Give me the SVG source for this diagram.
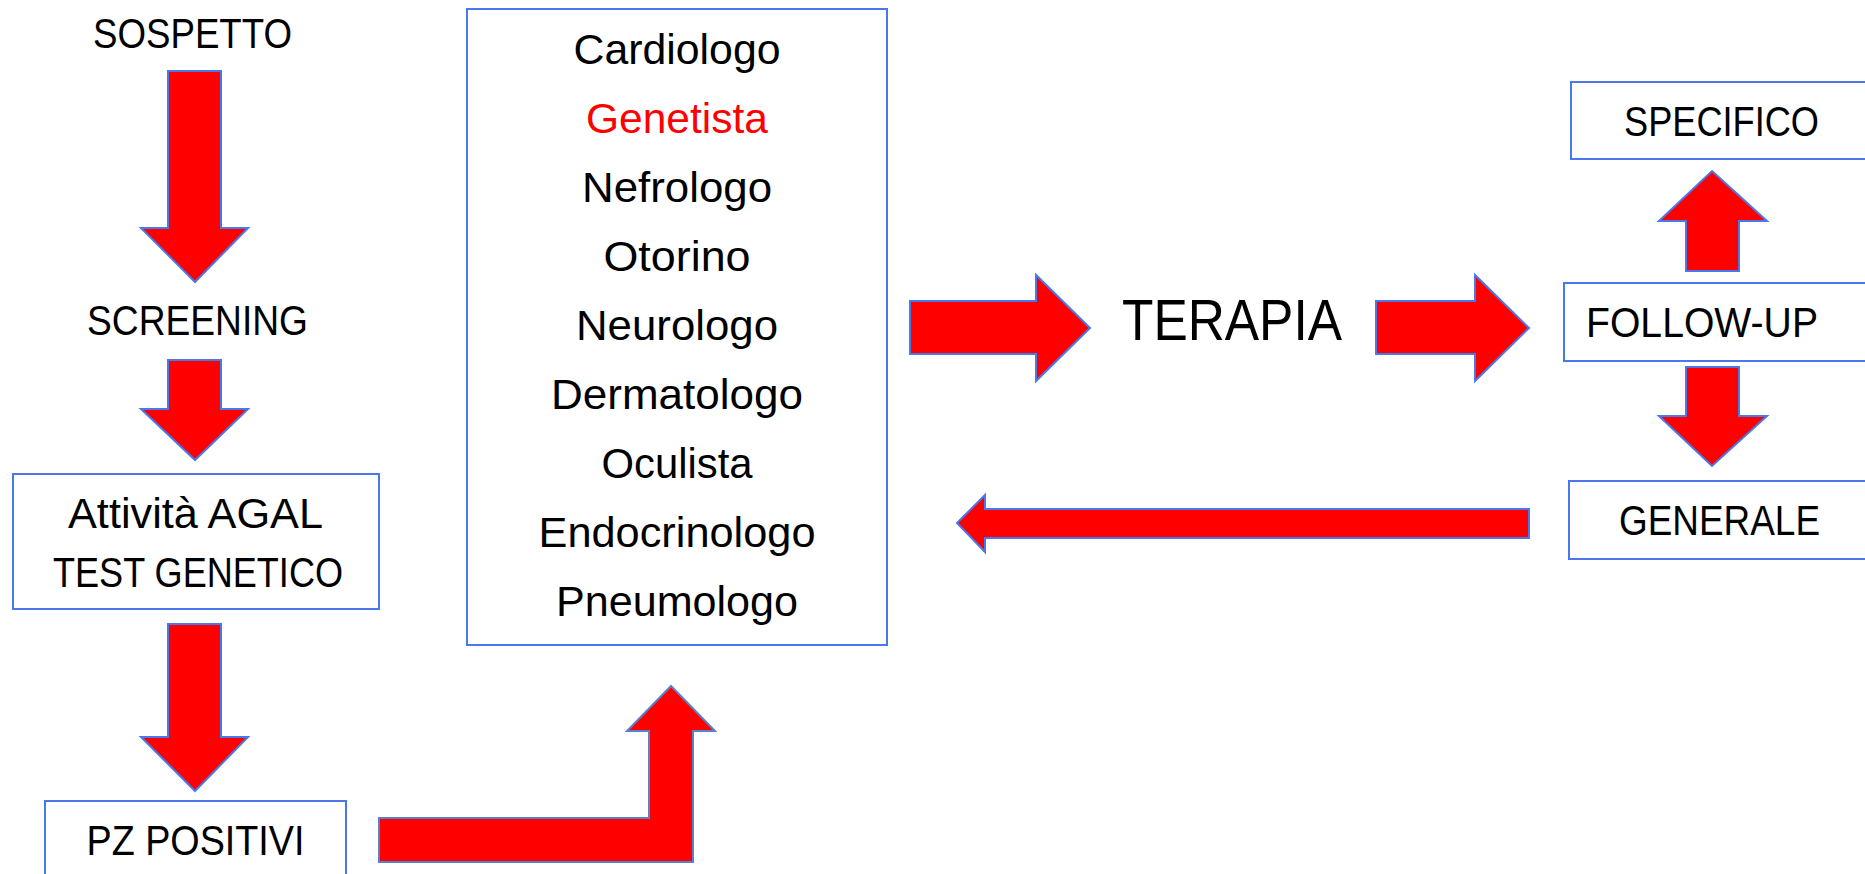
<svg xmlns="http://www.w3.org/2000/svg" width="1865" height="874" viewBox="0 0 1865 874">
<style>
.t{font-family:"Liberation Sans",Arial,sans-serif;font-size:42px;fill:#000;text-anchor:middle}
.box{fill:#fff;stroke:#4A78EC;stroke-width:2}
.arr{fill:#FF0000;stroke:#4A78EC;stroke-width:2;stroke-linejoin:miter}
</style>
<rect width="1865" height="874" fill="#fff"/>
<g id="connectors">
<polygon class="arr" points="168,71 221,71 221,228 248,228 195,282 141,228 168,228"/>
<polygon class="arr" points="168,360 221,360 221,409 248,409 195,460 141,409 168,409"/>
<polygon class="arr" points="168,624 221,624 221,737 248,737 195,791 141,737 168,737"/>
<polygon class="arr" style="stroke:#5A80C8" points="379,818 649,818 649,731 627,731 671,686 715,731 693,731 693,862 379,862"/>
<polygon class="arr" points="910,301 1036,301 1036,275 1090,328 1036,381 1036,354 910,354"/>
<polygon class="arr" points="1376,301 1475,301 1475,275 1529,328 1475,381 1475,354 1376,354"/>
<polygon class="arr" points="957,523 985,495 985,509 1529,509 1529,538 985,538 985,552"/>
<polygon class="arr" points="1712,171 1767,221 1739,221 1739,271 1686,271 1686,221 1659,221"/>
<polygon class="arr" points="1686,367 1739,367 1739,416 1767,416 1712,466 1659,416 1686,416"/>
</g>
<g id="sospetto">
<text class="t" x="192.5" y="48" textLength="199" lengthAdjust="spacingAndGlyphs">SOSPETTO</text>
</g>
<g id="screening">
<text class="t" x="197.5" y="335" textLength="221" lengthAdjust="spacingAndGlyphs">SCREENING</text>
</g>
<g id="attivita">
<rect class="box" x="13" y="474" width="366" height="135"/>
<text class="t" x="195.5" y="528" textLength="255" lengthAdjust="spacingAndGlyphs">Attività AGAL</text>
<text class="t" x="198" y="587" textLength="290" lengthAdjust="spacingAndGlyphs">TEST GENETICO</text>
</g>
<g id="pz">
<rect class="box" x="45" y="801" width="301" height="110"/>
<text class="t" x="195.5" y="855" textLength="218" lengthAdjust="spacingAndGlyphs">PZ POSITIVI</text>
</g>
<g id="specialisti">
<rect class="box" x="467" y="9" width="420" height="636"/>
<text class="t" x="677" y="64" textLength="207" lengthAdjust="spacingAndGlyphs">Cardiologo</text>
<text class="t" x="677" y="133" textLength="182" lengthAdjust="spacingAndGlyphs" style="fill:#FF0000">Genetista</text>
<text class="t" x="677" y="202" textLength="190" lengthAdjust="spacingAndGlyphs">Nefrologo</text>
<text class="t" x="677" y="271" textLength="147" lengthAdjust="spacingAndGlyphs">Otorino</text>
<text class="t" x="677" y="340" textLength="202" lengthAdjust="spacingAndGlyphs">Neurologo</text>
<text class="t" x="677" y="409" textLength="252" lengthAdjust="spacingAndGlyphs">Dermatologo</text>
<text class="t" x="677" y="478" textLength="151" lengthAdjust="spacingAndGlyphs">Oculista</text>
<text class="t" x="677" y="547" textLength="277" lengthAdjust="spacingAndGlyphs">Endocrinologo</text>
<text class="t" x="677" y="616" textLength="242" lengthAdjust="spacingAndGlyphs">Pneumologo</text>
</g>
<g id="terapia">
<text class="t" x="1232" y="340" style="font-size:57px" textLength="220" lengthAdjust="spacingAndGlyphs">TERAPIA</text>
</g>
<g id="specifico">
<rect class="box" x="1571" y="82" width="310" height="77"/>
<text class="t" x="1721.5" y="136" textLength="195" lengthAdjust="spacingAndGlyphs">SPECIFICO</text>
</g>
<g id="followup">
<rect class="box" x="1564" y="283" width="320" height="78"/>
<text class="t" x="1702" y="337" textLength="232" lengthAdjust="spacingAndGlyphs">FOLLOW-UP</text>
</g>
<g id="generale">
<rect class="box" x="1569" y="481" width="315" height="78"/>
<text class="t" x="1719.5" y="535" textLength="201" lengthAdjust="spacingAndGlyphs">GENERALE</text>
</g>
</svg>
